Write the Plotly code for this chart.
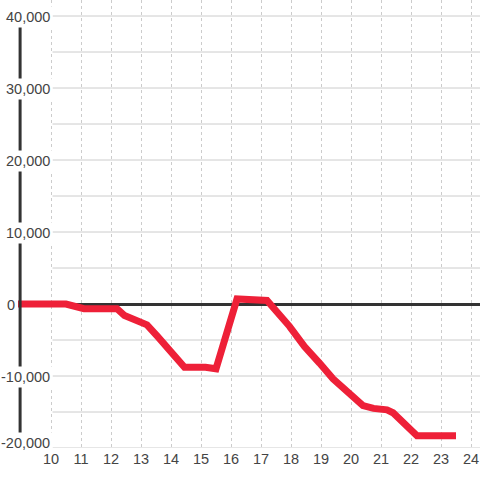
import plotly.graph_objects as go

# Série (x en unités, y en valeur)
x_vals = [8.9, 10.5, 11.1, 12.2, 12.45, 13.2, 13.55, 14.45, 15.15, 15.5, 16.2, 16.55, 17.2,
          17.95, 18.45, 18.95, 19.4, 20.4, 20.75, 21.2, 21.4, 22.2, 23.5]
y_vals = [0, 0, -650, -650, -1600, -2900, -4500, -8800, -8800, -9000, 700, 700, 500,
          -3100, -5900, -8200, -10400, -14100, -14500, -14700, -15100, -18300, -18300]

x_ticks = list(range(10, 25))
y_grid = list(range(-20000, 40001, 5000))
y_labels = list(range(-20000, 40001, 10000))

RED = "#EE2038"
AXIS = "#333333"
GRID = "#cccccc"
TXT = "#444444"
FONT = "Liberation Sans, Arial, sans-serif"

X_RANGE = [8.9, 24.3]
Y_RANGE = [-20000, 42222]

fig = go.Figure()

fig.add_trace(go.Scatter(
    x=x_vals, y=y_vals, mode="lines",
    line=dict(color=RED, width=7),
    hoverinfo="skip", showlegend=False,
))

shapes = []
# grille horizontale : commence à la première graduation x
for v in y_grid:
    shapes.append(dict(type="line", xref="x", yref="y", x0=x_ticks[0] + 0.05, x1=X_RANGE[1],
                       y0=v, y1=v, line=dict(color=GRID, width=1), layer="below"))
# axe vertical épais
shapes.append(dict(type="line", xref="x", yref="y", x0=8.97, x1=8.97,
                   y0=y_grid[0], y1=y_grid[-1], line=dict(color=AXIS, width=3), layer="above"))

annotations = []
for v in y_labels:
    if v == 0:
        # le "0" est posé à gauche de l'axe
        pos = dict(x=X_RANGE[0], xshift=0, yshift=-1, bgcolor="rgba(0,0,0,0)")
    else:
        pos = dict(x=x_ticks[0], xshift=2, yshift=5 if v == y_labels[0] else -1, bgcolor="white")
    annotations.append(dict(
        xref="x", yref="y", y=v, text=f"{v:,}",
        xanchor="right", yanchor="middle", showarrow=False, borderpad=2,
        font=dict(family=FONT, size=14.5, color=TXT), **pos,
    ))

fig.update_layout(
    width=480, height=480,
    margin=dict(l=18, r=0, t=0, b=32),
    paper_bgcolor="white", plot_bgcolor="white",
    shapes=shapes, annotations=annotations,
    xaxis=dict(range=X_RANGE, tickvals=x_ticks, showgrid=True, gridcolor=GRID,
               griddash="3px,3px", gridwidth=1, zeroline=False, showline=False,
               ticks="", tickfont=dict(family=FONT, size=14.5, color=TXT)),
    yaxis=dict(range=Y_RANGE, showgrid=False, showticklabels=False, ticks="",
               zeroline=True, zerolinecolor=AXIS, zerolinewidth=3, showline=False),
)

fig.write_html("out.html", config={"displayModeBar": False},
               post_script="document.body.style.margin='0';")
